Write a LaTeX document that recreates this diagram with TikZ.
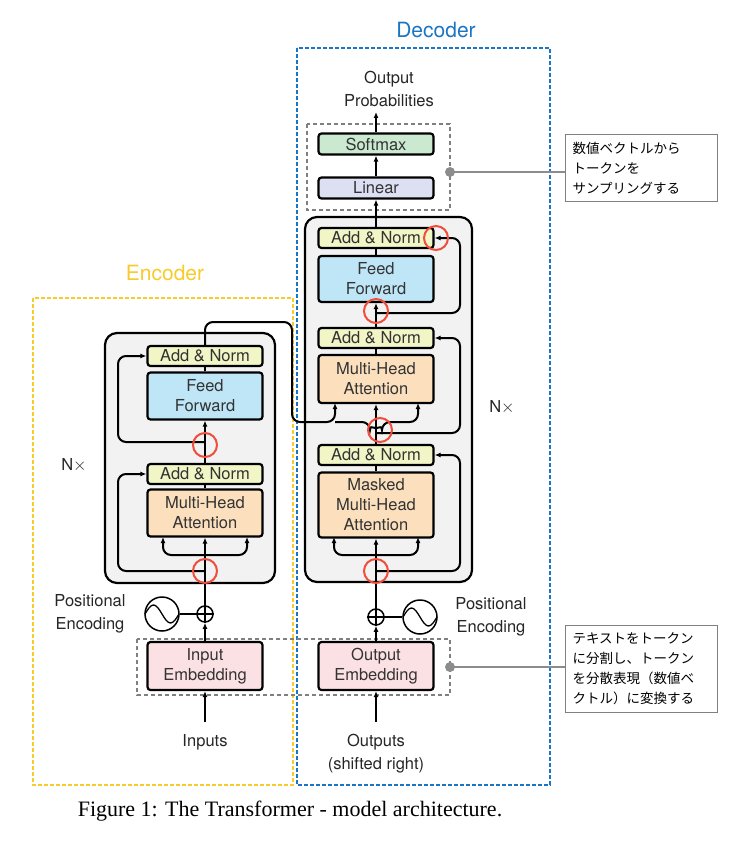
\documentclass[tikz,border=0pt]{standalone}
\usepackage{fontspec}
\setmainfont{TeX Gyre Heros}
\newfontfamily\jpfont{Noto Sans CJK JP}
\newfontfamily\capfont{Liberation Serif}
\usetikzlibrary{arrows.meta,positioning,calc}

\definecolor{normcol}{RGB}{242,246,198}
\definecolor{ffcol}{RGB}{190,230,247}
\definecolor{attcol}{RGB}{252,224,190}
\definecolor{embcol}{RGB}{252,225,228}
\definecolor{softcol}{RGB}{202,233,208}
\definecolor{lincol}{RGB}{221,224,243}
\definecolor{stackcol}{RGB}{242,242,242}
\definecolor{hlred}{RGB}{240,78,58}
\definecolor{enccol}{RGB}{246,203,42}
\definecolor{deccol}{RGB}{26,117,196}

\tikzset{
  blk/.style={draw,line width=2.2pt,rounded corners=3pt,minimum width=115pt,inner sep=0pt,align=center,font=\fontsize{16.5}{20}\selectfont,text=black!80},
  addnorm/.style={blk,fill=normcol,minimum height=20pt},
  flow/.style={line width=2pt,-{Latex[length=6pt,width=5pt]}},
  wire/.style={line width=2pt},
  stack/.style={draw,line width=2.2pt,rounded corners=12pt,fill=stackcol},
  hilite/.style={draw=hlred,line width=2pt,circle,minimum size=24pt,inner sep=0pt},
  lbl/.style={font=\fontsize{16.5}{23}\selectfont,text=black!85,align=center},
  note/.style={draw=black!50,line width=1pt,fill=white,align=left,text width=138pt,inner sep=7pt,font=\jpfont\fontsize{13.5}{20}\selectfont},
}

\begin{document}
\begin{tikzpicture}[x=1pt,y=-1pt]
\useasboundingbox (0,0) rectangle (740,850);

% frames
\draw [enccol,line width=1.5pt,dash pattern=on 4pt off 2pt] (33,298) rectangle (293,785);
\draw [deccol,line width=2pt,dash pattern=on 4pt off 2pt] (297,48) rectangle (550,785);
\node [font=\fontsize{21}{24}\selectfont,text=enccol] (enctitle) at (165,273) {Encoder};
\node [font=\fontsize{21}{24}\selectfont,text=deccol] (dectitle) at (436,30) {Decoder};

% stacks
\draw [stack] (105,333) rectangle (275,583);
\draw [stack] (305,217) rectangle (472,582);

% gray groupings
\draw [black!50,line width=1.2pt,dash pattern=on 4pt off 3pt] (307,124) rectangle (450,210);
\draw [black!50,line width=1.2pt,dash pattern=on 4pt off 3pt] (137,639) rectangle (450,695);

% encoder blocks
\node [addnorm] (eAN2) at (205,356) {Add \& Norm};
\node [blk,fill=ffcol,minimum height=47pt] (eFF) at (205,396) {Feed\\Forward};
\node [addnorm] (eAN1) at (205,474) {Add \& Norm};
\node [blk,fill=attcol,minimum height=47pt] (eMHA) at (205,513) {Multi-Head\\Attention};
\node [blk,fill=embcol,minimum height=48pt] (eEmb) at (205,666) {Input\\Embedding};

% decoder blocks
\node [blk,fill=softcol,minimum height=21pt] (dSoft) at (376,144) {Softmax};
\node [blk,fill=lincol,minimum height=21pt] (dLin) at (376,188) {Linear};
\node [addnorm] (dAN3) at (376,238) {Add \& Norm};
\node [blk,fill=ffcol,minimum height=46pt] (dFF) at (376,279) {Feed\\Forward};
\node [addnorm] (dAN2) at (376,338) {Add \& Norm};
\node [blk,fill=attcol,minimum height=48pt] (dMHA) at (376,379) {Multi-Head\\Attention};
\node [addnorm] (dAN1) at (376,455) {Add \& Norm};
\node [blk,fill=attcol,minimum height=65pt] (dMMHA) at (376,505) {Masked\\Multi-Head\\Attention};
\node [blk,fill=embcol,minimum height=48pt] (dEmb) at (376,666) {Output\\Embedding};

% texts
\node [lbl] (inputs) at (205,742) {Inputs};
\node [lbl] (outputs) at (376,754) {Outputs\\(shifted right)};
\node [lbl] (probs) at (389,89) {Output\\Probabilities};
\node [lbl] (ePE) at (90,614) {Positional\\Encoding};
\node [lbl] (dPE) at (491,617) {Positional\\Encoding};
\node [lbl] (eN) at (74,465) {N$\times$};
\node [lbl] (dN) at (502,407) {N$\times$};

% positional encoding
\node [draw,circle,line width=1.5pt,minimum size=16pt,inner sep=0pt,fill=white] (ePlus) at (205,614) {};
\node [draw,circle,line width=1.5pt,minimum size=16pt,inner sep=0pt,fill=white] (dPlus) at (376,617) {};
\foreach \p in {ePlus,dPlus}
  \draw [line width=1.2pt] (\p.west) -- (\p.east) (\p.north) -- (\p.south);
\node [draw,circle,line width=1.5pt,minimum size=34pt,inner sep=0pt] (eSin) at (162,614) {};
\node [draw,circle,line width=1.5pt,minimum size=34pt,inner sep=0pt] (dSin) at (420,617) {};
\foreach \s in {eSin,dSin}
  \draw [line width=1.3pt] ($(\s)+(-17,0)$) sin ($(\s)+(-8.5,-9)$) cos ($(\s)$) sin ($(\s)+(8.5,9)$) cos ($(\s)+(17,0)$);
\draw [wire] (eSin) -- (ePlus);
\draw [wire] (dSin) -- (dPlus);

% encoder flow
\coordinate (eIn) at (205,722);
\draw [flow] (eIn) -- (eEmb);
\draw [flow] (eEmb) -- (ePlus);
\draw [flow] (ePlus) -- (eMHA);
\draw [flow,rounded corners=8pt] (205,555) -- (163,555) -- (163,537);
\draw [flow,rounded corners=8pt] (205,555) -- (247,555) -- (247,537);
\draw [wire] (eMHA) -- (eAN1);
\draw [flow] (eAN1) -- (eFF);
\draw [wire] (eFF) -- (eAN2);
\draw [flow,rounded corners=8pt] (205,571) -- (118,571) -- (118,474) -- (eAN1.west);
\draw [flow,rounded corners=8pt] (205,442) -- (118,442) -- (118,356) -- (eAN2.west);

% encoder to decoder
\draw [flow,rounded corners=8pt] (eAN2.north) -- (205,322) -- (292,322) -- (292,422) -- (335,422) -- (335,403);
\draw [flow,rounded corners=8pt] (335,422) -- (370,422) arc (180:0:6) -- (418,422) -- (418,403);

% decoder flow
\coordinate (dIn) at (376,722);
\draw [flow] (dIn) -- (dEmb);
\draw [flow] (dEmb) -- (dPlus);
\draw [flow] (dPlus) -- (dMMHA);
\draw [flow,rounded corners=8pt] (376,555) -- (334,555) -- (334,537);
\draw [flow,rounded corners=8pt] (376,555) -- (418,555) -- (418,537);
\draw [wire] (dMMHA) -- (dAN1);
\draw [flow] (dAN1) -- (dMHA);
\draw [wire] (dMHA) -- (dAN2);
\draw [flow] (dAN2) -- (dFF);
\draw [wire] (dFF) -- (dAN3);
\draw [flow] (dAN3) -- (dLin);
\draw [flow] (dLin) -- (dSoft);
\coordinate (dOut) at (376,112);
\draw [flow] (dSoft) -- (dOut);
\draw [flow,rounded corners=8pt] (376,571) -- (460,571) -- (460,455) -- (dAN1.east);
\draw [flow,rounded corners=8pt] (376,433) -- (460,433) -- (460,338) -- (dAN2.east);
\draw [flow,rounded corners=8pt] (376,313) -- (460,313) -- (460,238) -- (dAN3.east);

% highlights
\node [hilite] (m1) at (205,445) {};
\node [hilite] (m2) at (205,571) {};
\node [hilite] (m3) at (436,238) {};
\node [hilite] (m4) at (376,311) {};
\node [hilite] (m5) at (380,430) {};
\node [hilite] (m6) at (376,571) {};

% notes
\node [note,anchor=west] (n1) at (565,168) {数値ベクトルから\\トークンを\\サンプリングする};
\node [note,anchor=west] (n2) at (565,669) {テキストをトークン\\に分割し、トークン\\を分散表現（数値ベ\\クトル）に変換する};
\coordinate (d1) at (450,172);
\coordinate (d2) at (450,667);
\draw [black!45,line width=1.2pt] (d1) -- (d1 -| n1.west);
\draw [black!45,line width=1.2pt] (d2) -- (d2 -| n2.west);
\fill [black!45] (d1) circle (5pt) (d2) circle (5pt);

% caption
\node [font=\capfont\fontsize{22}{26}\selectfont] (cap) at (290,811) {Figure 1: The Transformer - model architecture.};
\end{tikzpicture}
\end{document}
